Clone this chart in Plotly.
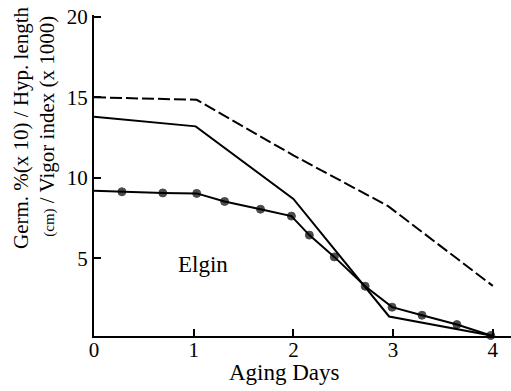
import plotly.graph_objects as go

# Data
vigor_days = [0, 1.03, 2.0, 2.95, 4.0]
vigor_vals = [15.0, 14.85, 11.4, 8.25, 3.3]          # dashed

hyp_days = [0, 1.02, 2.0, 2.96, 4.0]
hyp_vals = [13.8, 13.2, 8.7, 1.4, 0.2]               # solid

germ_days = [0, 0.28, 0.69, 1.03, 1.31, 1.67, 1.98, 2.16, 2.41, 2.72, 2.99, 3.29, 3.64, 3.98]
germ_vals = [9.2, 9.14, 9.07, 9.04, 8.54, 8.06, 7.63, 6.45, 5.1, 3.28, 1.98, 1.48, 0.9, 0.22]

x_ticks = [0, 1, 2, 3, 4]
y_ticks = [5, 10, 15, 20]

FONT = "Liberation Serif"

fig = go.Figure()
fig.add_trace(go.Scatter(x=vigor_days, y=vigor_vals, mode="lines",
                         line=dict(color="black", width=2, dash="12px,4px"),
                         showlegend=False))
fig.add_trace(go.Scatter(x=hyp_days, y=hyp_vals, mode="lines",
                         line=dict(color="black", width=2),
                         showlegend=False))
fig.add_trace(go.Scatter(x=germ_days, y=germ_vals, mode="lines+markers",
                         line=dict(color="black", width=2),
                         marker=dict(color="black", size=[0] + [8] * (len(germ_days) - 1),
                                     line=dict(color="black", width=1)),
                         cliponaxis=False, showlegend=False))

fig.add_annotation(x=1.09, y=4.6, xref="x", yref="y", text="Elgin", showarrow=False,
                   font=dict(family=FONT, size=23, color="black"))

fig.add_annotation(x=1.91, y=(336 - 373) / 321, xref="x", yref="paper", text="Aging Days",
                   showarrow=False, yanchor="middle", xanchor="center",
                   font=dict(family=FONT, size=23, color="black"))

fig.add_annotation(x=(21 - 94) / 417, y=0.648, xref="paper", yref="paper",
                   text="Germ. %(x 10) / Hyp. length", textangle=-90, showarrow=False,
                   xanchor="center", yanchor="middle",
                   font=dict(family=FONT, size=21, color="black"))
fig.add_annotation(x=(47 - 94) / 417, y=0.652, xref="paper", yref="paper",
                   text="<span style='font-size:15px'>(cm)</span> / Vigor index (x 1000)",
                   textangle=-90, showarrow=False, xanchor="center", yanchor="middle",
                   font=dict(family=FONT, size=21, color="black"))

fig.update_layout(
    width=511, height=391,
    margin=dict(l=94, r=0, t=15, b=55),
    plot_bgcolor="white", paper_bgcolor="white",
    font=dict(family=FONT, size=21, color="black"),
    xaxis=dict(range=[0, 417 / 99.7], tickvals=x_ticks, ticktext=[str(v) for v in x_ticks],
               ticks="inside", ticklen=7, tickwidth=1.5, tickcolor="black", automargin=False,
               tickfont=dict(family=FONT, size=21), ticklabelstandoff=-6,
               showline=True, linecolor="black", linewidth=2, showgrid=False, zeroline=False),
    yaxis=dict(range=[0.19, 20.11], tickvals=y_ticks, ticktext=[str(v) for v in y_ticks],
               ticks="inside", ticklen=7, tickwidth=1.5, tickcolor="black", automargin=False,
               tickfont=dict(family=FONT, size=21),
               showline=True, linecolor="black", linewidth=2, showgrid=False, zeroline=False),
)

fig.write_html("out.html", config={"displayModeBar": False},
               post_script="document.body.style.margin='0px';")
